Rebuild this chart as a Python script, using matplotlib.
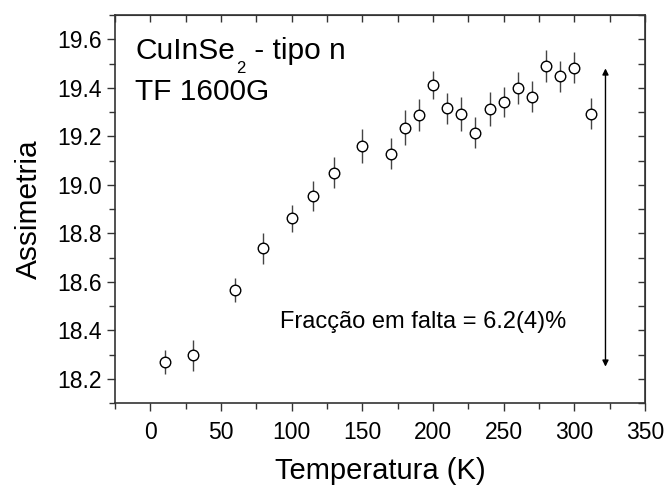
import numpy as np
import matplotlib.pyplot as plt
from matplotlib.ticker import MultipleLocator

plt.rcParams['font.family'] = ['Liberation Sans', 'DejaVu Sans']

# data
temp = [10, 30, 60, 80, 100, 115, 130, 150, 170, 180, 190, 200, 210, 220,
        230, 240, 250, 260, 270, 280, 290, 300, 312]
asym = [18.269, 18.296, 18.567, 18.738, 18.862, 18.954, 19.050, 19.161,
        19.129, 19.236, 19.287, 19.411, 19.315, 19.291, 19.214, 19.312,
        19.342, 19.400, 19.363, 19.490, 19.448, 19.483, 19.294]
err = [0.048, 0.064, 0.050, 0.064, 0.055, 0.062, 0.065, 0.070, 0.065,
       0.072, 0.066, 0.058, 0.065, 0.070, 0.064, 0.069, 0.062, 0.067,
       0.064, 0.064, 0.064, 0.065, 0.062]

# arrow for the missing fraction
arrow_x = 322
arrow_top = 19.48
arrow_bottom = 18.25

fig = plt.figure(figsize=(6.65, 4.87), dpi=100)
ax = fig.add_axes([0.173, 0.1725, 0.797, 0.7965])

gray = '#333333'
ax.errorbar(temp, asym, yerr=err, fmt='o', ms=7.6, mfc='white', mec='black',
            mew=1.0, ecolor='#444444', elinewidth=1.0, capsize=0, zorder=3)

ax.annotate('', xy=(arrow_x, arrow_bottom), xytext=(arrow_x, arrow_top),
            arrowprops=dict(arrowstyle='<|-|>', color='black', lw=1.0,
                            mutation_scale=9, shrinkA=0, shrinkB=0))

ax.text(92, 18.436, 'Fracção em falta = 6.2(4)%', fontsize=17, va='center')

# sample label, subscript sits below the baseline like in Origin
t1 = ax.text(0.038, 0.887, 'CuInSe', transform=ax.transAxes, fontsize=21.5,
             va='baseline')
t2 = ax.annotate('2', xy=(1, 0), xycoords=t1, xytext=(1, 3),
                 textcoords='offset points', fontsize=12, va='top')
ax.annotate(' - tipo n', xy=(1, 0), xycoords=(t2, t1), fontsize=21.5,
            va='bottom')
ax.text(0.038, 0.781, 'TF 1600G', transform=ax.transAxes, fontsize=21.5,
        va='baseline')

ax.set_xlim(-25, 350)
ax.set_ylim(18.1, 19.7)
ax.xaxis.set_major_locator(MultipleLocator(50))
ax.xaxis.set_minor_locator(MultipleLocator(25))
ax.yaxis.set_major_locator(MultipleLocator(0.2))
ax.yaxis.set_minor_locator(MultipleLocator(0.1))
ax.yaxis.set_major_formatter(plt.FormatStrFormatter('%.1f'))
ax.tick_params(which='major', direction='out', length=6, width=1,
               color=gray, labelsize=16.5)
ax.tick_params(axis='x', which='major', pad=7)
ax.tick_params(which='minor', direction='out', length=4, width=1, color=gray)
for s in ax.spines.values():
    s.set_color(gray)
    s.set_linewidth(1.2)

# top and right ticks point inwards
top = ax.secondary_xaxis('top')
top.xaxis.set_major_locator(MultipleLocator(50))
top.xaxis.set_minor_locator(MultipleLocator(25))
top.tick_params(which='both', direction='in', length=5, width=1, color=gray,
                labeltop=False)
top.spines['top'].set_color(gray)
right = ax.secondary_yaxis('right')
right.yaxis.set_major_locator(MultipleLocator(0.2))
right.yaxis.set_minor_locator(MultipleLocator(0.1))
right.tick_params(which='both', direction='in', length=5, width=1, color=gray,
                  labelright=False)
right.spines['right'].set_color(gray)

ax.set_xlabel('Temperatura (K)', fontsize=21, labelpad=9)
ax.set_ylabel('Assimetria', fontsize=21.5, labelpad=10)

fig.savefig('out.png', dpi=100)
